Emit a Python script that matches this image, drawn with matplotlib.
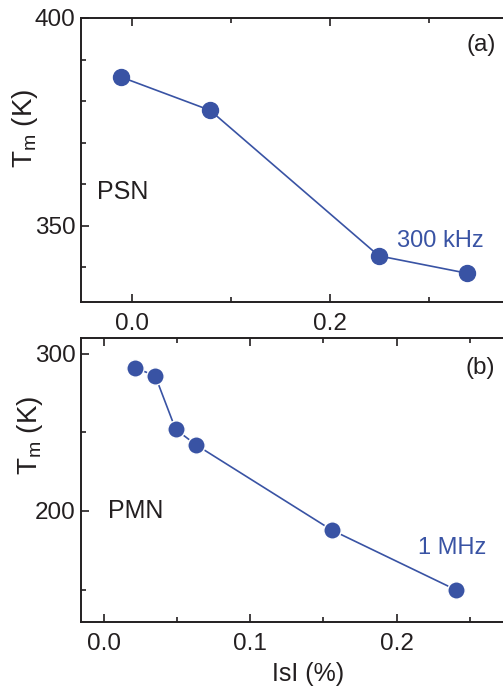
import matplotlib
matplotlib.use("Agg")
import matplotlib.pyplot as plt
from matplotlib.ticker import MultipleLocator

plt.rcParams['font.family'] = ['Liberation Sans', 'DejaVu Sans']
plt.rcParams['mathtext.fontset'] = 'custom'
plt.rcParams['mathtext.rm'] = 'Liberation Sans'
plt.rcParams['mathtext.it'] = 'Liberation Sans'

# datos
psn_s = [-0.011, 0.079, 0.2495, 0.339]
psn_tm = [385.8, 377.8, 342.8, 338.6]
pmn_s = [0.021, 0.035, 0.049, 0.063, 0.1556, 0.2406]
pmn_tm = [291.1, 286.0, 251.9, 242.0, 187.9, 149.8]

azul = "#3953a4"
negro = "#231f20"

fig = plt.figure(figsize=(5.03, 6.87), dpi=100)


def estilo(ax, xmaj, xmin, ymaj, ymin):
    ax.spines['right'].set_visible(False)
    for s in ['left', 'bottom', 'top']:
        ax.spines[s].set_linewidth(1.4)
        ax.spines[s].set_color(negro)
    ax.xaxis.set_major_locator(MultipleLocator(xmaj))
    ax.xaxis.set_minor_locator(MultipleLocator(xmin))
    ax.yaxis.set_major_locator(MultipleLocator(ymaj))
    ax.yaxis.set_minor_locator(MultipleLocator(ymin))
    ax.tick_params(which='both', direction='in', top=True, right=False,
                   width=1.2, color=negro, labelsize=17.5, labelcolor=negro)
    ax.tick_params(which='major', length=6)
    ax.tick_params(which='minor', length=3.5)
    ax.tick_params(axis='x', pad=8)
    ax.tick_params(axis='y', pad=4)


# panel (a)
ax1 = fig.add_axes([0.161, 0.5604, 0.839, 0.4134])
ax1.plot(psn_s, psn_tm, '-o', color=azul, lw=1.2, ms=11.5)
ax1.set_xlim(-0.0515, 0.375)
ax1.set_ylim(331.7, 400)
estilo(ax1, 0.2, 0.1, 50, 10)
ax1.set_ylabel(r'T$_\mathregular{m}$ (K)', fontsize=20, color=negro)
ax1.yaxis.set_label_coords(-0.097, 0.61)
ax1.text(0.038, 0.387, 'PSN', transform=ax1.transAxes, fontsize=18,
         color=negro, va='center', ha='left')
ax1.text(0.749, 0.215, '300 kHz', transform=ax1.transAxes, fontsize=17,
         color=azul, va='center', ha='left')
ax1.text(0.948, 0.905, '(a)', transform=ax1.transAxes, fontsize=17.5,
         color=negro, va='center', ha='center')

# panel (b)
ax2 = fig.add_axes([0.161, 0.0946, 0.839, 0.4139])
ax2.plot(pmn_s, pmn_tm, '-o', color=azul, lw=1.2, ms=12.5,
         mec='white', mew=1.0)
ax2.set_xlim(-0.0157, 0.2727)
ax2.set_ylim(129.4, 310.2)
estilo(ax2, 0.1, 0.05, 100, 50)
ax2.set_ylabel(r'T$_\mathregular{m}$ (K)', fontsize=20, color=negro)
ax2.yaxis.set_label_coords(-0.085, 0.658)
ax2.set_xlabel('IsI (%)', fontsize=18, color=negro)
ax2.xaxis.set_label_coords((308 - 81) / 422, -0.142)
ax2.text(0.064, 0.39, 'PMN', transform=ax2.transAxes, fontsize=18,
         color=negro, va='center', ha='left')
ax2.text(0.799, 0.26, '1 MHz', transform=ax2.transAxes, fontsize=17,
         color=azul, va='center', ha='left')
ax2.text(0.945, 0.893, '(b)', transform=ax2.transAxes, fontsize=17.5,
         color=negro, va='center', ha='center')

fig.savefig("out.png", dpi=100)
